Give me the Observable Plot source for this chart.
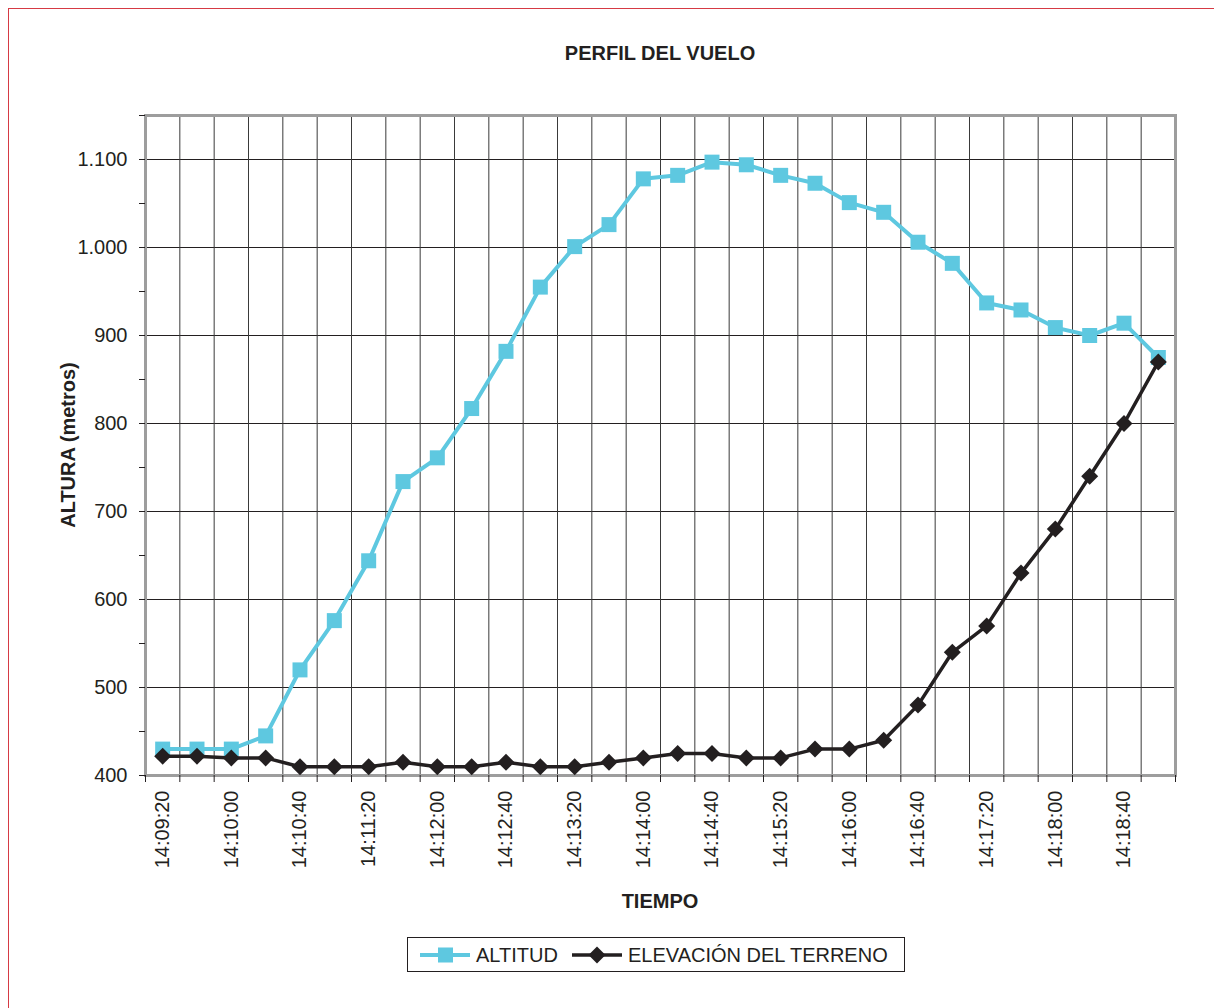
<!DOCTYPE html>
<html>
<head>
<meta charset="utf-8">
<script src="https://cdn.jsdelivr.net/npm/d3@7"></script>
<script src="https://cdn.jsdelivr.net/npm/@observablehq/plot@0.6"></script>
<style>
  html, body { margin: 0; padding: 0; background: #fff; }
  body { width: 1214px; height: 1008px; position: relative; overflow: hidden;
         font-family: "Liberation Sans", Arial, Helvetica, sans-serif; color: #231f20; }
  #frame { position: absolute; left: 8px; top: 8px; width: 1400px; height: 1200px;
           border-left: 1.5px solid #d63a44; border-top: 1.5px solid #d63a44; }
  #title { position: absolute; left: 145px; width: 1030px; top: 41px; text-align: center;
           font-weight: bold; font-size: 20px; line-height: 24px; }
  #chart { position: absolute; left: 0; top: 100px; }
  #xlabel { position: absolute; left: 145px; width: 1030px; top: 889px; text-align: center;
            font-weight: bold; font-size: 20px; line-height: 24px; }
  #ylabel { position: absolute; left: 68px; top: 445px; transform: translate(-50%, -50%) rotate(-90deg);
            white-space: nowrap; font-weight: bold; font-size: 20px; line-height: 24px; }
  #legend { position: absolute; left: 407px; top: 937px; width: 498px; height: 35px;
            border: 1px solid #231f20; box-sizing: border-box; font-size: 20px; }
  #legend .sw { position: absolute; top: 5px; }
  #legend .lt { position: absolute; top: 5px; line-height: 24px; white-space: nowrap; }
</style>
</head>
<body>
<div id="frame"></div>
<div id="title">PERFIL DEL VUELO</div>
<div id="chart"></div>
<div id="xlabel">TIEMPO</div>
<div id="ylabel">ALTURA (metros)</div>
<div id="legend"></div>
<script>
// ---- data ----
const tiempos = ["14:09:20","14:09:40","14:10:00","14:10:20","14:10:40","14:11:00","14:11:20","14:11:40",
  "14:12:00","14:12:20","14:12:40","14:13:00","14:13:20","14:13:40","14:14:00","14:14:20","14:14:40",
  "14:15:00","14:15:20","14:15:40","14:16:00","14:16:20","14:16:40","14:17:00","14:17:20","14:17:40",
  "14:18:00","14:18:20","14:18:40","14:19:00"];
const altitud = [430,430,430,445,520,576,644,734,761,817,882,955,1001,1026,1078,1082,1097,1094,1082,1073,
  1051,1040,1006,982,937,929,909,900,914,875];
const elevacion = [422,422,420,420,410,410,410,415,410,410,415,410,410,415,420,425,425,420,420,430,
  430,440,480,540,570,630,680,740,800,870];
const yTickValues = [400,500,600,700,800,900,1000,1100];
const yMinorTicks = [450,550,650,750,850,950,1050,1150];

const serieNames = ["ALTITUD", "ELEVACIÓN DEL TERRENO"];
const cyan = "#5ec8e0", dark = "#231f20";

// custom symbols
const squareSym = { draw(ctx, size) { const h = Math.sqrt(size / Math.PI); ctx.rect(-h, -h, 2*h, 2*h); } };
const diamondSym = { draw(ctx, size) { const h = Math.sqrt(size / Math.PI);
  ctx.moveTo(0, -h); ctx.lineTo(h, 0); ctx.lineTo(0, h); ctx.lineTo(-h, 0); ctx.closePath(); } };

const idx = tiempos.map((_, i) => i);
const boundaries = d3.range(tiempos.length + 1).map(i => i - 0.5);
const evenIdx = idx.filter(i => i % 2 === 0);
const fmt = d => d3.format(",")(d).replace(/,/g, ".");

const chart = Plot.plot({
  width: 1214, height: 830,
  marginLeft: 145, marginRight: 39, marginTop: 15, marginBottom: 155,
  style: { fontFamily: "'Liberation Sans', Arial, sans-serif", color: dark, background: "transparent" },
  x: { type: "linear", domain: [-0.5, tiempos.length - 0.5], label: null },
  y: { domain: [400, 1150], label: null },
  marks: [
    Plot.ruleY(yTickValues.slice(1), { stroke: "#231f20", strokeWidth: 1 }),
    Plot.ruleX(boundaries.slice(1, -1), { stroke: "#3a3a3a", strokeWidth: 1 }),
    Plot.frame({ stroke: "#9d9d9d", strokeWidth: 3 }),
    Plot.axisY({ ticks: yTickValues, tickFormat: fmt, tickSize: 6, tickPadding: 12, fontSize: 20, stroke: "#231f20", label: null }),
    Plot.axisY({ ticks: yMinorTicks, tickFormat: () => "", tickSize: 6, stroke: "#231f20", label: null }),
    Plot.axisX({ ticks: boundaries, tickFormat: () => "", tickSize: 7, stroke: "#231f20", label: null }),
    Plot.axisX({ ticks: evenIdx, tickFormat: i => tiempos[i], tickSize: 0, tickPadding: 15, tickRotate: -90, fontSize: 20, label: null }),
    Plot.line(idx, { x: i => i, y: i => altitud[i], stroke: cyan, strokeWidth: 4 }),
    Plot.dot(idx, { x: i => i, y: i => altitud[i], symbol: squareSym, r: 7.5, fill: cyan, stroke: null }),
    Plot.line(idx, { x: i => i, y: i => elevacion[i], stroke: dark, strokeWidth: 3.5 }),
    Plot.dot(idx, { x: i => i, y: i => elevacion[i], symbol: diamondSym, r: 8.5, fill: dark, stroke: null })
  ]
});
document.getElementById("chart").appendChild(chart);

// legend
const legend = document.getElementById("legend");
legend.innerHTML =
  `<svg class="sw" style="left:12px" width="52" height="24"><line x1="0" x2="50" y1="12" y2="12" stroke="${cyan}" stroke-width="4"/><rect x="18" y="4.5" width="15" height="15" fill="${cyan}"/></svg>` +
  `<span class="lt" style="left:68px">${serieNames[0]}</span>` +
  `<svg class="sw" style="left:164px" width="52" height="24"><line x1="0" x2="50" y1="12" y2="12" stroke="${dark}" stroke-width="3.5"/><path d="M25,3.5L33.5,12L25,20.5L16.5,12Z" fill="${dark}"/></svg>` +
  `<span class="lt" style="left:220px">${serieNames[1]}</span>`;
</script>
</body>
</html>
